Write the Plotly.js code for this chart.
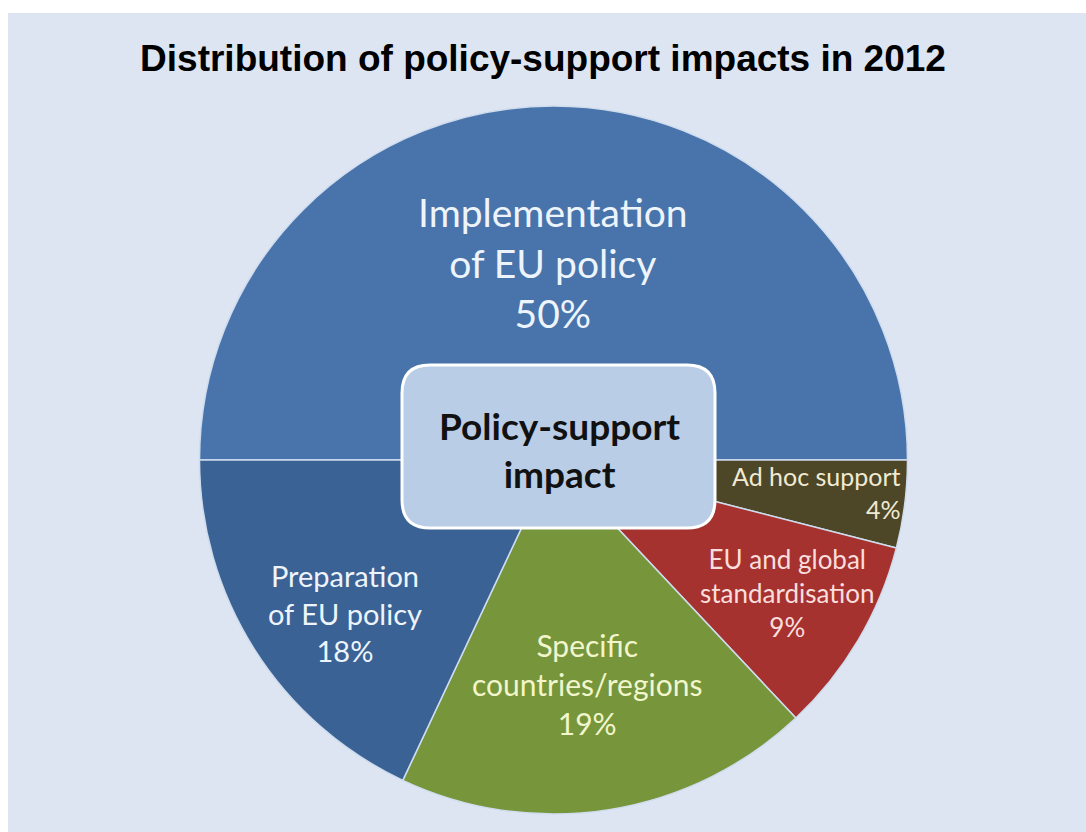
<!DOCTYPE html>
<html>
<head>
<meta charset="utf-8">
<script src="https://cdn.plot.ly/plotly-3.0.1.min.js"></script>
<style>html,body{margin:0;padding:0;background:#fff;}#chart{width:1086px;height:832px;}</style>
</head>
<body>
<div id="chart"></div>
<script>
// ---- data ----
const categories = ['Implementation<br>of EU policy', 'Ad hoc support', 'EU and global<br>standardisation', 'Specific<br>countries/regions', 'Preparation<br>of EU policy'];
const shares = [50, 4, 9, 19, 18];
const chartTitle = 'Distribution of policy-support impacts in 2012';
const centerLabel = 'Policy-support<br>impact';

// ---- styles / layout ----
const W = 1086, H = 832;
const sliceColors = ['#4874ab', '#4d4627', '#a6322f', '#77953b', '#3b6294'];
const textColors = ['#eef4fb', '#f1ead3', '#f9dede', '#f1f6cc', '#eef4fb'];
// label anchor positions (pixels) and sizes
const labelPos = [
  {x: 553, y: 263, size: 39, xanchor: 'center', align: 'center'},
  {x: 903, y: 492, size: 25, xanchor: 'right', align: 'right'},
  {x: 787, y: 593, size: 26, xanchor: 'center', align: 'center'},
  {x: 587, y: 684, size: 30, xanchor: 'center', align: 'center'},
  {x: 345, y: 613, size: 29, xanchor: 'center', align: 'center'}
];
const px = x => x / W, py = y => 1 - y / H;
const cx = 553.5, cy = 460, R = 354;

const trace = {
  type: 'pie',
  labels: categories,
  values: shares,
  sort: false,
  direction: 'clockwise',
  rotation: -90,
  textinfo: 'none',
  hoverinfo: 'label+percent',
  marker: {colors: sliceColors, line: {color: '#cfdcee', width: 1.5}},
  domain: {x: [px(cx - R), px(cx + R)], y: [py(cy + R), py(cy - R)]},
  showlegend: false
};

const annotations = categories.map((c, i) => ({
  xref: 'paper', yref: 'paper',
  x: px(labelPos[i].x), y: py(labelPos[i].y),
  xanchor: labelPos[i].xanchor, yanchor: 'middle', align: labelPos[i].align,
  text: c + '<br>' + shares[i] + '%',
  showarrow: false,
  font: {family: 'Lato, "Open Sans", sans-serif', size: labelPos[i].size, color: textColors[i]}
}));
annotations.push({
  xref: 'paper', yref: 'paper', x: px(559), y: py(449), xanchor: 'center', yanchor: 'middle',
  text: '<b>' + centerLabel + '</b>', showarrow: false,
  font: {family: 'Lato, "Open Sans", sans-serif', size: 37, color: '#111111'}
});

// rounded box
const bx0 = 402, bx1 = 715, by0 = 365, by1 = 528, r = 28;
const P = (x, y) => px(x) + ',' + py(y);
const boxPath = 'M' + P(bx0 + r, by0) + ' L' + P(bx1 - r, by0) + ' Q' + P(bx1, by0) + ' ' + P(bx1, by0 + r) +
  ' L' + P(bx1, by1 - r) + ' Q' + P(bx1, by1) + ' ' + P(bx1 - r, by1) +
  ' L' + P(bx0 + r, by1) + ' Q' + P(bx0, by1) + ' ' + P(bx0, by1 - r) +
  ' L' + P(bx0, by0 + r) + ' Q' + P(bx0, by0) + ' ' + P(bx0 + r, by0) + ' Z';

const layout = {
  width: W, height: H,
  margin: {l: 0, r: 0, t: 0, b: 0},
  paper_bgcolor: '#ffffff',
  title: {
    text: '<b>' + chartTitle + '</b>',
    x: 0.5, xanchor: 'center', xref: 'paper',
    y: py(58), yanchor: 'middle', yref: 'paper',
    font: {family: '"Liberation Sans", Arial, sans-serif', size: 37, color: '#000000'}
  },
  shapes: [
    {type: 'rect', xref: 'paper', yref: 'paper', x0: px(8), x1: 1, y0: 0, y1: py(13),
     fillcolor: '#dde5f3', line: {width: 0}, layer: 'below'},
    {type: 'path', xref: 'paper', yref: 'paper', path: boxPath,
     fillcolor: '#b9cde6', line: {color: '#ffffff', width: 3}, layer: 'above'}
  ],
  annotations: annotations
};

Plotly.newPlot('chart', [trace], layout, {displayModeBar: false, staticPlot: true});
</script>
</body>
</html>
